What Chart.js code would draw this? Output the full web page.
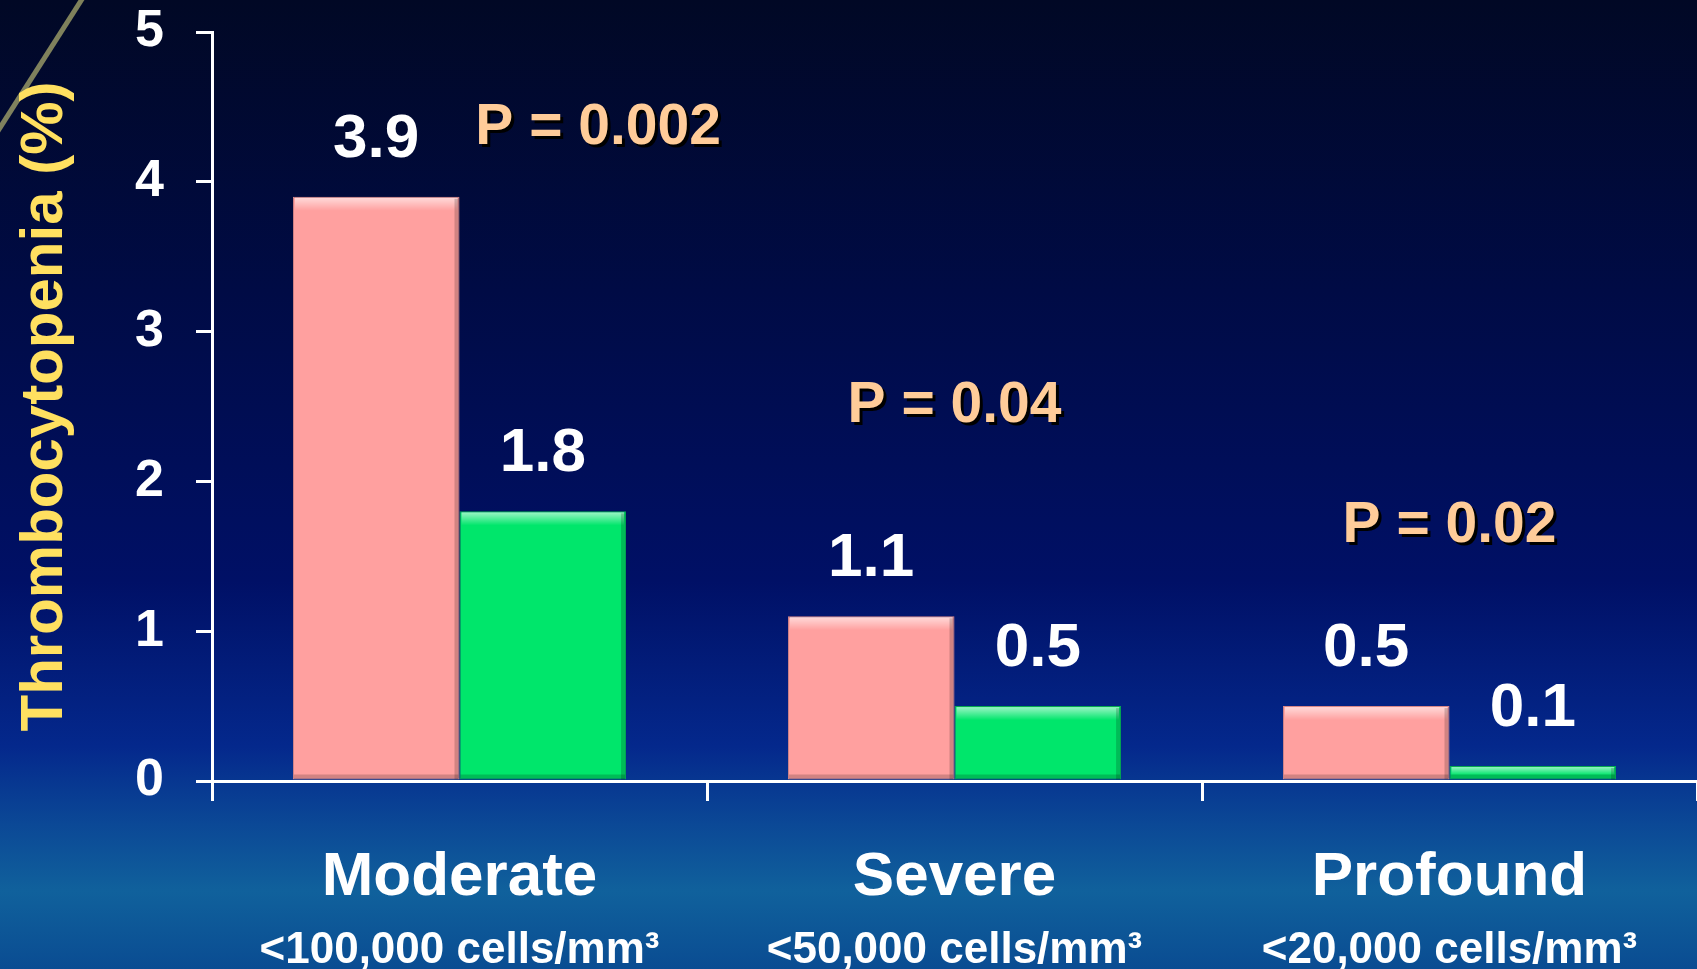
<!DOCTYPE html>
<html>
<head>
<meta charset="utf-8">
<script src="https://cdn.jsdelivr.net/npm/chart.js@4.4.1/dist/chart.umd.min.js"></script>
<style>
  html, body { margin: 0; padding: 0; background: #000a30; overflow: hidden; }
  #wrap { width: 1697px; height: 969px; }
</style>
</head>
<body>
<div id="wrap"><canvas id="chart" width="1697" height="969"></canvas></div>
<script>
const categories = ["Moderate", "Severe", "Profound"];
const thresholds = ["<100,000 cells/mm³", "<50,000 cells/mm³", "<20,000 cells/mm³"];
const seriesA = [3.9, 1.1, 0.5];
const seriesB = [1.8, 0.5, 0.1];
const pValues = ["P = 0.002", "P = 0.04", "P = 0.02"];
const yTicks = [0, 1, 2, 3, 4, 5];

const FONT = "'Liberation Sans', Arial, Helvetica, sans-serif";

// slide background painted behind the chart
const slideBackground = {
  id: "slideBackground",
  beforeDraw(chart) {
    const { ctx, width, height } = chart;
    ctx.save();
    const g = ctx.createLinearGradient(0, 0, 0, height);
    g.addColorStop(0, "#010825");
    g.addColorStop(0.3, "#000b45");
    g.addColorStop(0.6, "#001066");
    g.addColorStop(0.77, "#04288c");
    g.addColorStop(0.85, "#0b4896");
    g.addColorStop(0.92, "#10619c");
    g.addColorStop(1, "#0a4c92");
    ctx.fillStyle = g;
    ctx.fillRect(0, 0, width, height);
    // diagonal stripe in the corner
    ctx.strokeStyle = "rgba(170,170,110,0.75)";
    ctx.lineWidth = 5;
    ctx.beginPath();
    ctx.moveTo(-4, 134);
    ctx.lineTo(84, -4);
    ctx.stroke();
    ctx.restore();
  }
};

// bevel on the bars, value labels and P values
const barExtras = {
  id: "barExtras",
  afterDatasetsDraw(chart, args, opts) {
    const { ctx } = chart;
    ctx.save();
    chart.data.datasets.forEach((ds, di) => {
      chart.getDatasetMeta(di).data.forEach((bar) => {
        const left = bar.x - bar.width / 2;
        const h = bar.base - bar.y;
        const bev = Math.min(7, h / 3);
        const top = ctx.createLinearGradient(0, bar.y, 0, bar.y + bev * 2);
        top.addColorStop(0, "rgba(255,255,255,0.65)");
        top.addColorStop(1, "rgba(255,255,255,0)");
        ctx.fillStyle = top;
        ctx.fillRect(left + 2, bar.y + 1, bar.width - 4, bev * 2);
        ctx.fillStyle = "rgba(0,0,0,0.18)";
        ctx.fillRect(left + bar.width - 5, bar.y + 2, 4, h - 2);
        ctx.fillRect(left + 1, bar.base - 5, bar.width - 2, 4);
      });
    });

    ctx.textAlign = "center";
    ctx.textBaseline = "middle";
    ctx.font = "bold 62px " + FONT;
    ctx.fillStyle = "#ffffff";
    chart.data.datasets.forEach((ds, di) => {
      chart.getDatasetMeta(di).data.forEach((bar, i) => {
        ctx.fillText(String(ds.data[i]), bar.x, bar.y - opts.labelGap);
      });
    });

    const x = chart.scales.x;
    const y = chart.scales.y;
    const catW = (x.right - x.left) / categories.length;
    ctx.font = "bold 57px " + FONT;
    pValues.forEach((txt, i) => {
      const px = x.getPixelForValue(i) + opts.pAt[i].dx * catW;
      const py = y.getPixelForValue(opts.pAt[i].v);
      ctx.fillStyle = "#000000";
      ctx.fillText(txt, px + 3, py + 3);
      ctx.fillStyle = "#ffcc99";
      ctx.fillText(txt, px, py);
    });
    ctx.restore();
  }
};

new Chart(document.getElementById("chart"), {
  type: "bar",
  data: {
    labels: categories,
    datasets: [
      {
        label: "Group 1",
        data: seriesA,
        backgroundColor: "#ffa09f",
        borderColor: "#d98787",
        borderWidth: 1,
        borderSkipped: false
      },
      {
        label: "Group 2",
        data: seriesB,
        backgroundColor: "#00e66b",
        borderColor: "#05a850",
        borderWidth: 1,
        borderSkipped: false
      }
    ]
  },
  options: {
    responsive: false,
    animation: false,
    devicePixelRatio: 1,
    categoryPercentage: 0.673,
    barPercentage: 1.0,
    layout: { padding: { top: 32, right: 0, bottom: 0, left: 0 } },
    plugins: {
      legend: { display: false },
      tooltip: { enabled: false },
      barExtras: {
        labelGap: 57,
        pAt: [{ dx: 0.28, v: 4.36 }, { dx: 0, v: 2.5 }, { dx: 0, v: 1.7 }]
      }
    },
    scales: {
      x: {
        offset: true,
        grid: { display: true, drawOnChartArea: false, offset: true, color: "#ffffff", lineWidth: 3, tickLength: 20 },
        border: { display: true, color: "#ffffff", width: 3 },
        ticks: { color: "#ffffff", padding: 40, font: { family: FONT, size: 62, weight: "bold" } },
        afterFit: (s) => { s.height = 130; s.paddingLeft = 0; s.paddingRight = 0; }
      },
      x2: {
        type: "category",
        position: "bottom",
        labels: thresholds,
        offset: true,
        grid: { display: false },
        border: { display: false },
        ticks: { color: "#ffffff", padding: 5, font: { family: FONT, size: 44, weight: "bold" } },
        afterFit: (s) => { s.height = 58; s.paddingLeft = 0; s.paddingRight = 0; }
      },
      y: {
        min: 0,
        max: 5,
        afterBuildTicks: (s) => { s.ticks = yTicks.map((v) => ({ value: v })); },
        grid: { display: true, drawOnChartArea: false, color: "#ffffff", lineWidth: 3, tickLength: 16 },
        border: { display: true, color: "#ffffff", width: 3 },
        ticks: { color: "#ffffff", padding: 32, font: { family: FONT, size: 52, weight: "bold" } },
        title: {
          display: true,
          text: "Thrombocytopenia (%)",
          color: "#ffe060",
          padding: { top: 9, bottom: 0 },
          font: { family: FONT, size: 60, weight: "bold" }
        },
        afterFit: (s) => { s.width = 212; s.paddingTop = 0; s.paddingBottom = 0; }
      }
    }
  },
  plugins: [slideBackground, barExtras]
});
</script>
</body>
</html>
